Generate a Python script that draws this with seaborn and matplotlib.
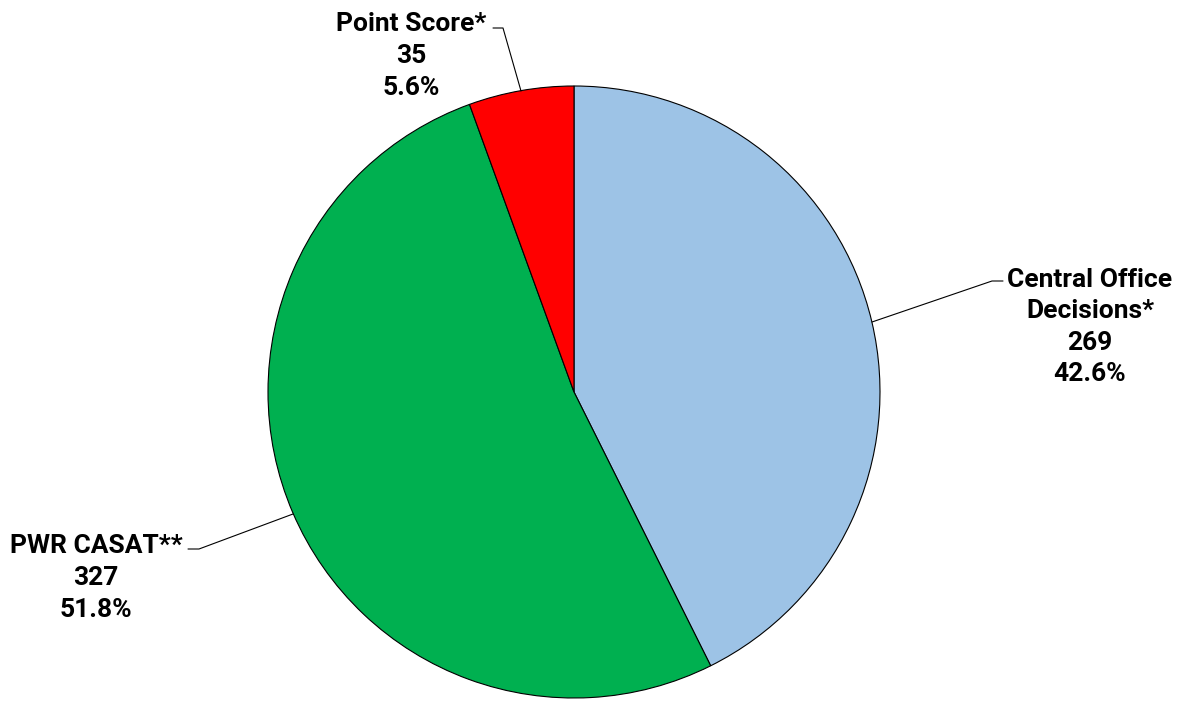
import matplotlib
matplotlib.use("Agg")
import matplotlib.pyplot as plt
import seaborn as sns

categories = ["Central Office\nDecisions*", "PWR CASAT**", "Point Score*"]
counts = [269, 327, 35]
percents = ["42.6%", "51.8%", "5.6%"]
colors = ["#9DC3E6", "#00B050", "#FF0000"]

sns.set_theme(style="white")
plt.rcParams['font.family'] = ['Roboto', 'DejaVu Sans']

W, H = 1188, 702
fig = plt.figure(figsize=(W / 100, H / 100), dpi=100)
ax = fig.add_axes([0, 0, 1, 1])

cx, cy, r = 574, H - 392, 306
ax.pie(counts, colors=colors, startangle=90, counterclock=False,
       center=(cx, cy), radius=r, frame=True,
       wedgeprops=dict(edgecolor='black', linewidth=0.8))
ax.set_xlim(0, W)
ax.set_ylim(0, H)
ax.set_aspect('equal')
ax.axis('off')

def fy(y):
    return H - y

# label positions (pixel coords, center of text block) and leader lines
label_pos = [(1090, 327), (96, 578), (411, 56)]
leaders = [
    [(872, 322), (992, 281), (1003, 281)],
    [(293, 514), (199, 549), (188, 549)],
    [(521, 91), (503, 28), (493, 28)],
]
for cat, n, p, (lx, ly), pts in zip(categories, counts, percents, label_pos, leaders):
    txt = f"{cat}\n{n}\n{p}"
    ax.text(lx, fy(ly), txt, ha='center', va='center', fontsize=19,
            fontweight='bold', color='black', linespacing=1.4)
    xs = [q[0] for q in pts]
    ys = [fy(q[1]) for q in pts]
    ax.plot(xs, ys, color='black', linewidth=0.8)

fig.savefig("out.png", dpi=100)
